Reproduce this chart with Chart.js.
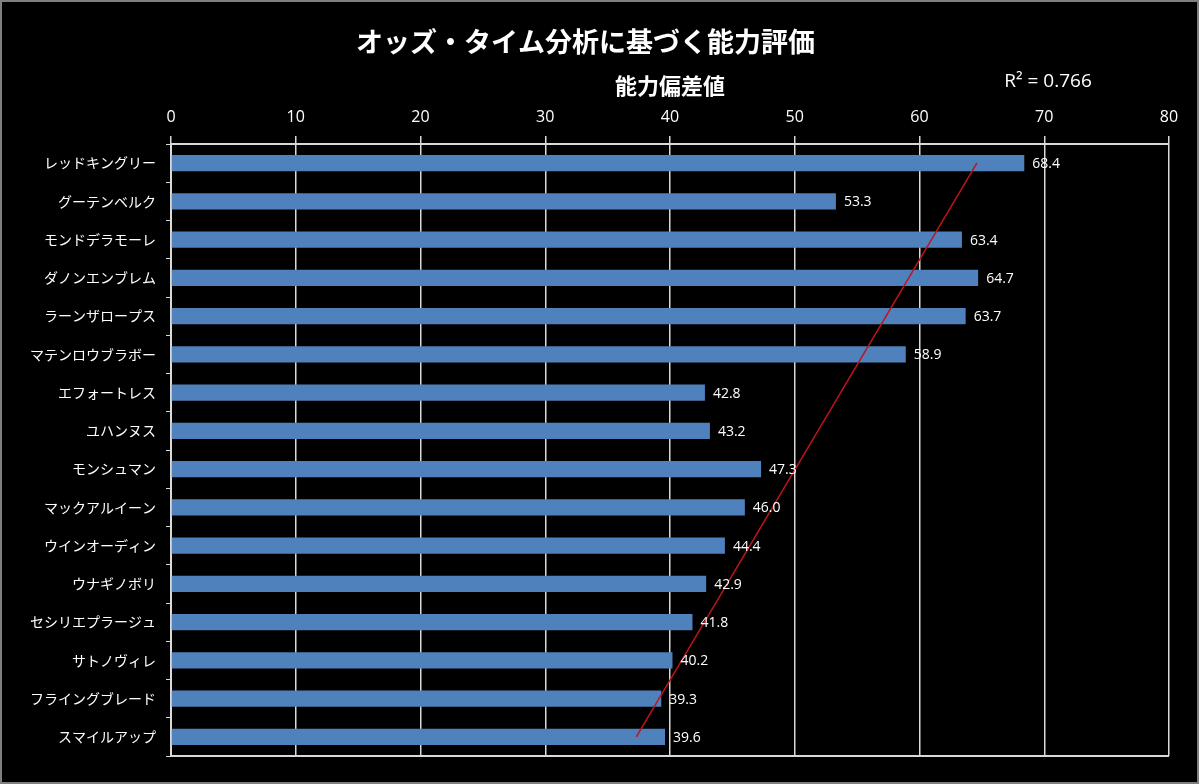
<!DOCTYPE html>
<html>
<head>
<meta charset="utf-8">
<script src="https://cdn.jsdelivr.net/npm/chart.js@4.4.1/dist/chart.umd.min.js"></script>
<style>
    html, body { margin: 0; padding: 0; background: #000; }
    .frame { width: 1199px; height: 784px; box-sizing: border-box; border: 2px solid #7f7f7f; background: #000; }
    canvas { display: block; }
</style>
</head>
<body>
<div class="frame"><canvas id="chart" width="1195" height="780"></canvas></div>
<script>
// 馬名（上から）
const horses = [
    'レッドキングリー', 'グーテンベルク', 'モンドデラモーレ', 'ダノンエンブレム',
    'ラーンザロープス', 'マテンロウブラボー', 'エフォートレス', 'ユハンヌス',
    'モンシュマン', 'マックアルイーン', 'ウインオーディン', 'ウナギノボリ',
    'セシリエプラージュ', 'サトノヴィレ', 'フライングブレード', 'スマイルアップ'
];
// 能力偏差値
const scores = [68.4, 53.3, 63.4, 64.7, 63.7, 58.9, 42.8, 43.2, 47.3, 46.0, 44.4, 42.9, 41.8, 40.2, 39.3, 39.6];
// 近似直線の両端
const trendEnds = [64.6, 37.3];
const xTicks = [0, 10, 20, 30, 40, 50, 60, 70, 80];
const rSquaredText = 'R² = 0.766';

const JP_FONT = "'Noto Sans CJK JP', 'Noto Sans', sans-serif";
const NUM_FONT = "'Open Sans', 'Noto Sans', sans-serif";

// 値ラベル + 枠線 + R²
const extrasPlugin = {
    id: 'extras',
    afterDatasetsDraw(chart) {
        const { ctx, chartArea } = chart;
        const meta = chart.getDatasetMeta(0);
        ctx.save();
        ctx.fillStyle = '#ffffff';
        ctx.font = '14px ' + NUM_FONT;
        ctx.textBaseline = 'middle';
        ctx.textAlign = 'left';
        meta.data.forEach((bar, i) => {
            ctx.fillText(scores[i].toFixed(1), bar.x + 8, bar.y + 1);
        });

        // 下の枠線
        ctx.strokeStyle = '#d9d9d9';
        ctx.lineWidth = 2;
        ctx.beginPath();
        ctx.moveTo(chartArea.left, chartArea.bottom);
        ctx.lineTo(chartArea.right, chartArea.bottom);
        ctx.stroke();

        ctx.font = '19px ' + NUM_FONT;
        ctx.textAlign = 'center';
        ctx.textBaseline = 'middle';
        const xs = chart.scales.x;
        ctx.fillText(rSquaredText, xs.getPixelForValue(70.3), chartArea.top - 62);
        ctx.restore();
    }
};

new Chart(document.getElementById('chart').getContext('2d'), {
    type: 'bar',
    data: {
        labels: horses,
        datasets: [{
            type: 'bar',
            data: scores,
            backgroundColor: '#4f81bd',
            barPercentage: 0.43,
            categoryPercentage: 1.0,
            order: 2
        }, {
            type: 'line',
            data: [
                { x: trendEnds[0], y: horses[0] },
                { x: trendEnds[1], y: horses[horses.length - 1] }
            ],
            borderColor: '#c0141c',
            borderWidth: 1.5,
            pointRadius: 0,
            fill: false,
            order: 1
        }]
    },
    options: {
        indexAxis: 'y',
        responsive: false,
        animation: false,
        layout: { padding: { left: 0, right: 28, top: 0, bottom: 26 } },
        plugins: {
            legend: { display: false },
            tooltip: { enabled: false },
            title: {
                display: true,
                text: 'オッズ・タイム分析に基づく能力評価',
                color: '#ffffff',
                font: { family: JP_FONT, size: 27, weight: 'bold' },
                padding: { top: 24, bottom: 14 }
            }
        },
        scales: {
            x: {
                position: 'top',
                min: 0,
                max: 80,
                afterBuildTicks: (scale) => { scale.ticks = xTicks.map(v => ({ value: v })); },
                ticks: { color: '#ffffff', font: { family: NUM_FONT, size: 16 }, padding: 9 },
                grid: { color: '#d9d9d9', lineWidth: 1.5, tickLength: 8 },
                border: { color: '#d9d9d9', width: 2 },
                title: {
                    display: true,
                    text: '能力偏差値',
                    color: '#ffffff',
                    font: { family: JP_FONT, size: 22, weight: 'bold' },
                    padding: { top: 0, bottom: 0 }
                }
            },
            y: {
                afterFit: (scale) => { scale.width = 169; },
                ticks: { color: '#ffffff', font: { family: JP_FONT, size: 14 }, padding: 10 },
                grid: { drawOnChartArea: false, color: '#d9d9d9', tickLength: 5, offset: true },
                border: { color: '#d9d9d9', width: 2 }
            }
        }
    },
    plugins: [extrasPlugin]
});
</script>
</body>
</html>
